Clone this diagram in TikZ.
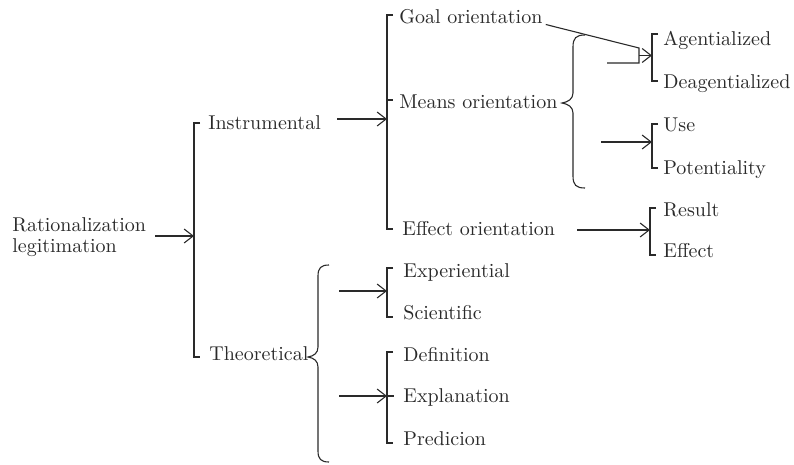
\documentclass[tikz,border=0pt]{standalone}
\usetikzlibrary{arrows.meta}
\definecolor{ink}{HTML}{2A2A2A}
\begin{document}
\begin{tikzpicture}[x=1pt,y=-1pt,
    lbl/.style={anchor=base west,inner sep=0pt,scale=2,text=ink,font=\fontsize{10}{10.5}\selectfont},
    conn/.style={draw=ink,line width=1.1pt},
    arr/.style={conn,-{Straight Barb[length=9pt,width=14pt]}},
    tick/.style={conn}]
    \useasboundingbox (0,0) rectangle (794,464);
    \node [lbl,anchor=west,align=left] (rat) at (12,237) {Rationalization\\legitimation};
    \node [lbl] (instr) at (208,129.5) {Instrumental};
    \node [lbl] (theo) at (209,360) {Theoretical};
    \node [lbl] (goal) at (399,23.5) {Goal orientation};
    \node [lbl] (means) at (399,108) {Means orientation};
    \node [lbl] (effo) at (402,235.5) {Effect orientation};
    \node [lbl] (agent) at (663,45) {Agentialized};
    \node [lbl] (deagent) at (663,88) {Deagentialized};
    \node [lbl] (use) at (663,131.5) {Use};
    \node [lbl] (poten) at (663,174) {Potentiality};
    \node [lbl] (result) at (663,216) {Result};
    \node [lbl] (effect) at (663,257.5) {Effect};
    \node [lbl] (exper) at (403,277.5) {Experiential};
    \node [lbl] (scien) at (403,319) {Scientific};
    \node [lbl] (defin) at (403,361) {Definition};
    \node [lbl] (expla) at (403,402.5) {Explanation};
    \node [lbl] (predi) at (403,445) {Predicion};

    \coordinate (s1t) at (194,123); \coordinate (s1b) at (194,357);
    \coordinate (s2t) at (387,15); \coordinate (s2m) at (387,100); \coordinate (s2b) at (387,229);
    \coordinate (s3t) at (652,34); \coordinate (s3b) at (652,81);
    \coordinate (s4t) at (652,124); \coordinate (s4b) at (652,168);
    \coordinate (s5t) at (650,208); \coordinate (s5b) at (650,255);
    \coordinate (s6t) at (387,268); \coordinate (s6b) at (387,317);
    \coordinate (s7t) at (387,352); \coordinate (s7m) at (387,396); \coordinate (s7b) at (387,443);

    \draw[tick] ([xshift=6pt]s1t) -- (s1t) -- (s1b) -- ([xshift=6pt]s1b);
    \draw[tick] ([xshift=6pt]s2t) -- (s2t) -- (s2b) -- ([xshift=6pt]s2b);
    \draw[tick] (s2m) -- ([xshift=6pt]s2m);
    \draw[tick] ([xshift=6pt]s3t) -- (s3t) -- (s3b) -- ([xshift=6pt]s3b);
    \draw[tick] ([xshift=6pt]s4t) -- (s4t) -- (s4b) -- ([xshift=6pt]s4b);
    \draw[tick] ([xshift=6pt]s5t) -- (s5t) -- (s5b) -- ([xshift=6pt]s5b);
    \draw[tick] ([xshift=6pt]s6t) -- (s6t) -- (s6b) -- ([xshift=6pt]s6b);
    \draw[tick] ([xshift=6pt]s7t) -- (s7t) -- (s7b) -- ([xshift=6pt]s7b);
    \draw[tick] (s7m) -- ([xshift=7pt]s7m);

    \coordinate (a1) at (155,236);
    \coordinate (a2) at (337,119);
    \coordinate (a3) at (601,142);
    \coordinate (a4) at (577,230);
    \coordinate (a5) at (339,291);
    \coordinate (a6) at (339,396);
    \draw[arr] (a1) -- (a1 -| s1t);
    \draw[arr] (a2) -- (a2 -| s2t);
    \draw[arr] (a3) -- (a3 -| s4t);
    \draw[arr] (a4) -- (a4 -| s5t);
    \draw[arr] (a5) -- (a5 -| s6t);
    \draw[arr] (a6) -- (a6 -| s7t);

    \coordinate (j1) at (639,48); \coordinate (j2) at (639,63); \coordinate (j0) at (607,63);
    \draw[conn] ([xshift=3pt,yshift=-1pt]goal.base east) -- (j1) -- (j2) -- (j0);
    \draw[arr] (639,55.5) -- (s3t |- 0,55.5);

    \draw[conn] (585,35) .. controls (576,35) and (573,38) .. (573,47) -- (573,93)
        .. controls (573,99) and (568,102) .. (562,103) .. controls (568,104) and (573,107) .. (573,113)
        -- (573,176) .. controls (573,185) and (576,188) .. (585,188);
    \draw[conn] (329,265) .. controls (321,265) and (318,268) .. (318,276) -- (318,347)
        .. controls (318,353) and (314,356) .. (308,357) .. controls (314,358) and (318,361) .. (318,367)
        -- (318,451) .. controls (318,459) and (321,462) .. (329,462);
\end{tikzpicture}
\end{document}
